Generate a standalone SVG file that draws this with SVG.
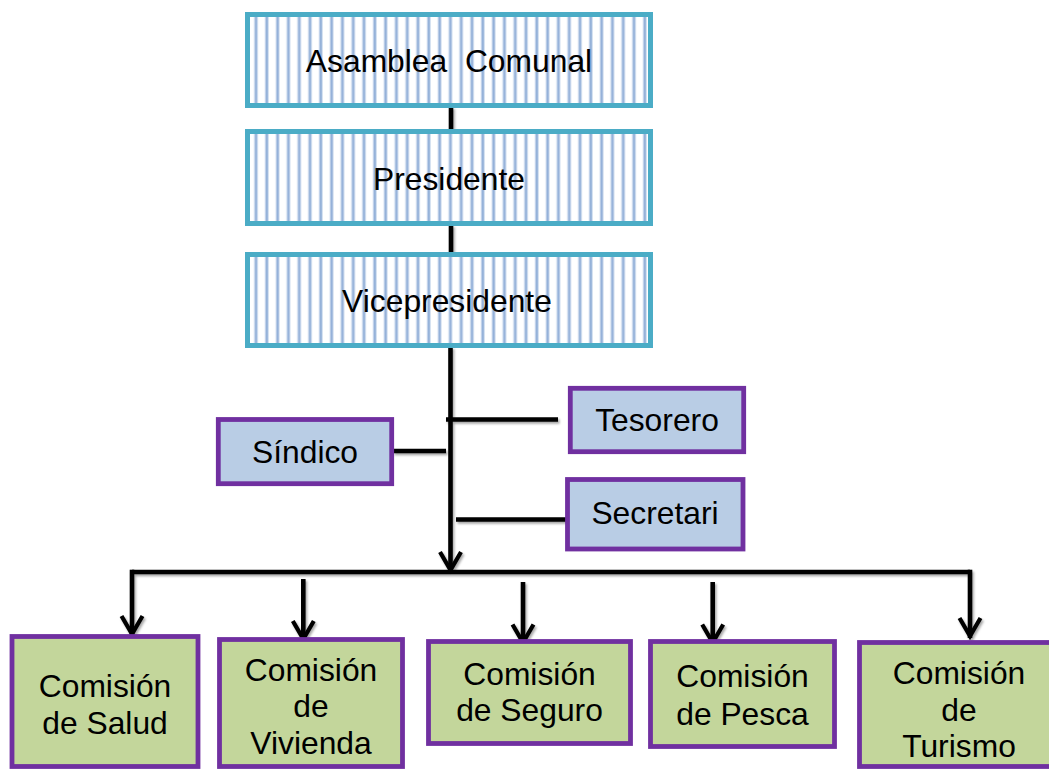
<svg xmlns="http://www.w3.org/2000/svg" width="1049" height="769" viewBox="0 0 1049 769">
<style>
  text { font-family: "Liberation Sans", Arial, sans-serif; font-size: 31.8px; fill: #000; text-anchor: middle; white-space: pre; }
  .top { fill: url(#stripes); stroke: #4bacc6; stroke-width: 5; }
  .mid { fill: #b9cde5; stroke: #7030a0; stroke-width: 4.8; }
  .com { fill: #c3d69b; stroke: #7030a0; stroke-width: 4.8; }
  .ln { stroke: #000; stroke-width: 4.6; fill: none; }
  .arr { marker-end: url(#ah); }
</style>
<defs>
  <pattern id="stripes" patternUnits="userSpaceOnUse" x="0" y="0" width="10.8" height="10">
    <rect x="0" y="0" width="10.8" height="10" fill="#ffffff"/>
    <rect x="5.6" y="0" width="4" height="10" fill="#cddcef"/>
    <rect x="6.6" y="0" width="2" height="10" fill="#93b0d8"/>
  </pattern>
  <marker id="ah" markerUnits="userSpaceOnUse" viewBox="-26 -15 30 30" refX="0" refY="0" markerWidth="30" markerHeight="30" orient="auto">
    <path d="M-20,-10.5 L-2,0 L-20,10.5" fill="none" stroke="#000" stroke-width="4.2" stroke-linejoin="miter"/>
  </marker>
  <filter id="sh" filterUnits="userSpaceOnUse" x="0" y="0" width="1049" height="769">
    <feDropShadow dx="1.5" dy="2" stdDeviation="1" flood-color="#000" flood-opacity="0.35"/>
  </filter>
</defs>

<g id="connectors" filter="url(#sh)">
  <line class="ln" x1="451" y1="107" x2="451" y2="131"/>
  <line class="ln" x1="451" y1="225" x2="451" y2="254"/>
  <line class="ln arr" x1="450.5" y1="347" x2="450.5" y2="572"/>
  <line class="ln" x1="446" y1="419.5" x2="558" y2="419.5"/>
  <line class="ln" x1="393" y1="451" x2="446" y2="451"/>
  <line class="ln" x1="456" y1="519.5" x2="567" y2="519.5"/>
  <polyline class="ln" points="132,572 970,572"/>
  <line class="ln arr" x1="132" y1="569.7" x2="132" y2="636"/>
  <line class="ln arr" x1="303.3" y1="579" x2="303.3" y2="641"/>
  <line class="ln arr" x1="523" y1="582" x2="523" y2="644.5"/>
  <line class="ln arr" x1="712.7" y1="582" x2="712.7" y2="644.5"/>
  <line class="ln arr" x1="970" y1="569.7" x2="970" y2="638"/>
</g>

<g id="asamblea">
  <rect class="top" x="247.5" y="14.5" width="403" height="91"/>
  <text x="449" y="72">Asamblea  Comunal</text>
</g>
<g id="presidente">
  <rect class="top" x="247.5" y="131.5" width="403" height="92"/>
  <text x="449" y="190">Presidente</text>
</g>
<g id="vicepresidente">
  <rect class="top" x="247.5" y="254.5" width="403" height="91"/>
  <text x="447" y="312">Vicepresidente</text>
</g>

<g id="tesorero">
  <rect class="mid" x="570.3" y="388.3" width="173.4" height="63.4"/>
  <text x="657" y="431">Tesorero</text>
</g>
<g id="sindico">
  <rect class="mid" x="218.3" y="419.5" width="173.4" height="64.2"/>
  <text x="305" y="463">Síndico</text>
</g>
<g id="secretari">
  <rect class="mid" x="567.5" y="479.5" width="175.5" height="69.5"/>
  <text x="655" y="523.5">Secretari</text>
</g>

<g id="salud">
  <rect class="com" x="12" y="636.5" width="186" height="130"/>
  <text x="105" y="697">Comisión</text>
  <text x="105" y="733.5">de Salud</text>
</g>
<g id="vivienda">
  <rect class="com" x="219.5" y="639.5" width="183" height="127"/>
  <text x="311" y="680.5">Comisión</text>
  <text x="311" y="717">de</text>
  <text x="311" y="753.5">Vivienda</text>
</g>
<g id="seguro">
  <rect class="com" x="428.5" y="641.5" width="202" height="102"/>
  <text x="529.5" y="684.5">Comisión</text>
  <text x="529.5" y="721">de Seguro</text>
</g>
<g id="pesca">
  <rect class="com" x="650.5" y="641.5" width="184" height="105"/>
  <text x="742.5" y="687">Comisión</text>
  <text x="742.5" y="724.5">de Pesca</text>
</g>
<g id="turismo">
  <rect class="com" x="859.5" y="642.5" width="200" height="124"/>
  <text x="959" y="683.5">Comisión</text>
  <text x="959" y="720.5">de</text>
  <text x="959" y="757">Turismo</text>
</g>
</svg>
